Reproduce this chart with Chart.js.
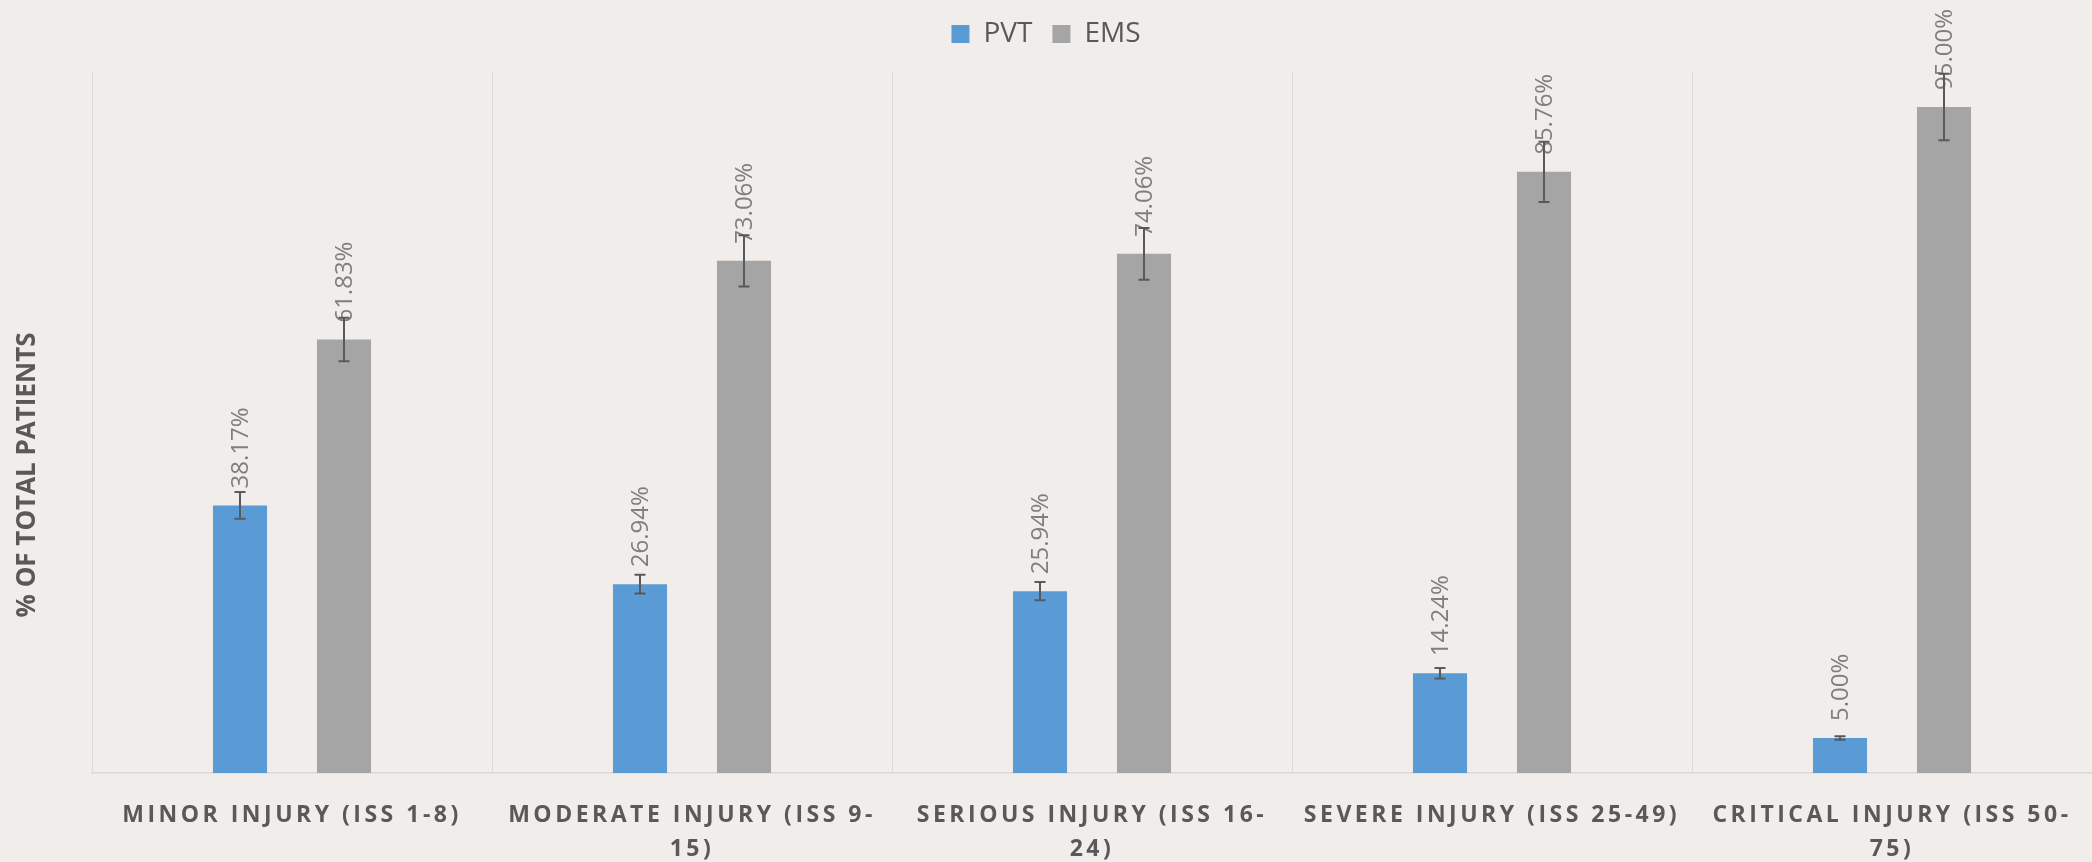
<!DOCTYPE html>
<html>
<head>
<meta charset="utf-8">
<title>PVT vs EMS by injury severity</title>
<script src="https://cdn.jsdelivr.net/npm/chart.js@4.4.1/dist/chart.umd.min.js"></script>
<style>
  html, body { margin: 0; padding: 0; background: #f0edea; overflow: hidden; }
  #wrap { width: 2092px; height: 862px; position: relative; }
</style>
</head>
<body>
<div id="wrap"><canvas id="chart"></canvas></div>
<script>
// categories (wrapped the way the original chart wraps them)
const categories = [
  "MINOR INJURY (ISS 1-8)",
  ["MODERATE INJURY (ISS 9-", "15)"],
  ["SERIOUS INJURY (ISS 16-", "24)"],
  "SEVERE INJURY (ISS 25-49)",
  ["CRITICAL INJURY (ISS 50-", "75)"]
]
const seriesNames = ["PVT", "EMS"]
const pvtValues = [38.17, 26.94, 25.94, 14.24, 5.00]
const emsValues = [61.83, 73.06, 74.06, 85.76, 95.00]
// error bar half-lengths
const pvtErrors = [1.9, 1.35, 1.3, 0.75, 0.25]
const emsErrors = [3.1, 3.65, 3.7, 4.3, 4.75]
const yAxisTitle = "% OF TOTAL PATIENTS"

const textColor = "#595959"
Chart.defaults.font.family = "'Open Sans', sans-serif"
Chart.defaults.color = textColor

// push the plot area down a bit below the legend
const legendMargin = {
  id: "legendMargin",
  beforeInit(chart) {
    const fit = chart.legend.fit
    chart.legend.fit = function () {
      fit.bind(chart.legend)()
      this.height += 14
    }
  }
}

// value labels (rotated) and error bars
const barExtras = {
  id: "barExtras",
  afterDatasetsDraw(chart) {
    const ctx = chart.ctx
    const yScale = chart.scales.y
    const errors = [pvtErrors, emsErrors]
    chart.data.datasets.forEach((ds, di) => {
      const meta = chart.getDatasetMeta(di)
      meta.data.forEach((bar, i) => {
        const v = ds.data[i]
        const e = errors[di][i]

        ctx.save()
        ctx.translate(bar.x + 1, bar.y - 17)
        ctx.rotate(-Math.PI / 2)
        ctx.font = "24px 'Open Sans'"
        ctx.fillStyle = "#7f7f7f"
        ctx.textAlign = "left"
        ctx.textBaseline = "middle"
        ctx.fillText(v.toFixed(2) + "%", 0, 0)
        ctx.restore()

        const top = yScale.getPixelForValue(v + e)
        const bot = yScale.getPixelForValue(v - e)
        ctx.save()
        ctx.strokeStyle = "#595959"
        ctx.lineWidth = 2
        ctx.beginPath()
        ctx.moveTo(bar.x, top)
        ctx.lineTo(bar.x, bot)
        ctx.moveTo(bar.x - 5.5, top)
        ctx.lineTo(bar.x + 5.5, top)
        ctx.moveTo(bar.x - 5.5, bot)
        ctx.lineTo(bar.x + 5.5, bot)
        ctx.stroke()
        ctx.restore()
      })
    })
  }
}

// y axis title sits a little below the plot's middle in the original
const yTitle = {
  id: "yTitle",
  afterDraw(chart) {
    const ctx = chart.ctx
    ctx.save()
    ctx.translate(28, 475)
    ctx.rotate(-Math.PI / 2)
    ctx.font = "bold 26px 'Open Sans'"
    ctx.fillStyle = textColor
    ctx.textAlign = "center"
    ctx.textBaseline = "middle"
    ctx.fillText(yAxisTitle, 0, 0)
    ctx.restore()
  }
}

new Chart(document.getElementById("chart"), {
  type: "bar",
  data: {
    labels: categories,
    datasets: [
      {
        label: seriesNames[0],
        data: pvtValues,
        backgroundColor: "#5b9bd5",
        categoryPercentage: 0.52,
        barPercentage: 0.52
      },
      {
        label: seriesNames[1],
        data: emsValues,
        backgroundColor: "#a5a5a5",
        categoryPercentage: 0.52,
        barPercentage: 0.52
      }
    ]
  },
  options: {
    responsive: true,
    maintainAspectRatio: false,
    animation: false,
    layout: { padding: 0 },
    plugins: {
      legend: {
        position: "top",
        labels: {
          font: { size: 28 },
          color: textColor,
          boxWidth: 18,
          boxHeight: 18,
          padding: 20
        }
      },
      tooltip: { enabled: false }
    },
    scales: {
      x: {
        grid: {
          color: "#d9d9d9",
          lineWidth: 1,
          drawTicks: false,
          offset: true
        },
        border: { display: true, color: "#d9d9d9", width: 1.5 },
        ticks: {
          font: { size: 23, weight: "bold", lineHeight: 1.5 },
          color: textColor,
          padding: 25,
          maxRotation: 0,
          minRotation: 0,
          autoSkip: false
        },
        afterFit(scale) {
          scale.height = 89
          if (!scale._spaced) {
            const draw = scale.drawLabels
            scale.drawLabels = function (area) {
              this.ctx.save()
              this.ctx.letterSpacing = "3.5px"
              draw.call(this, area)
              this.ctx.restore()
            }
            scale._spaced = true
          }
        }
      },
      y: {
        min: 0,
        max: 100,
        grid: { display: false },
        border: { display: false },
        ticks: { display: false },
        afterFit(scale) {
          scale.width = 92
        }
      }
    }
  },
  plugins: [legendMargin, barExtras, yTitle]
})
</script>
</body>
</html>
